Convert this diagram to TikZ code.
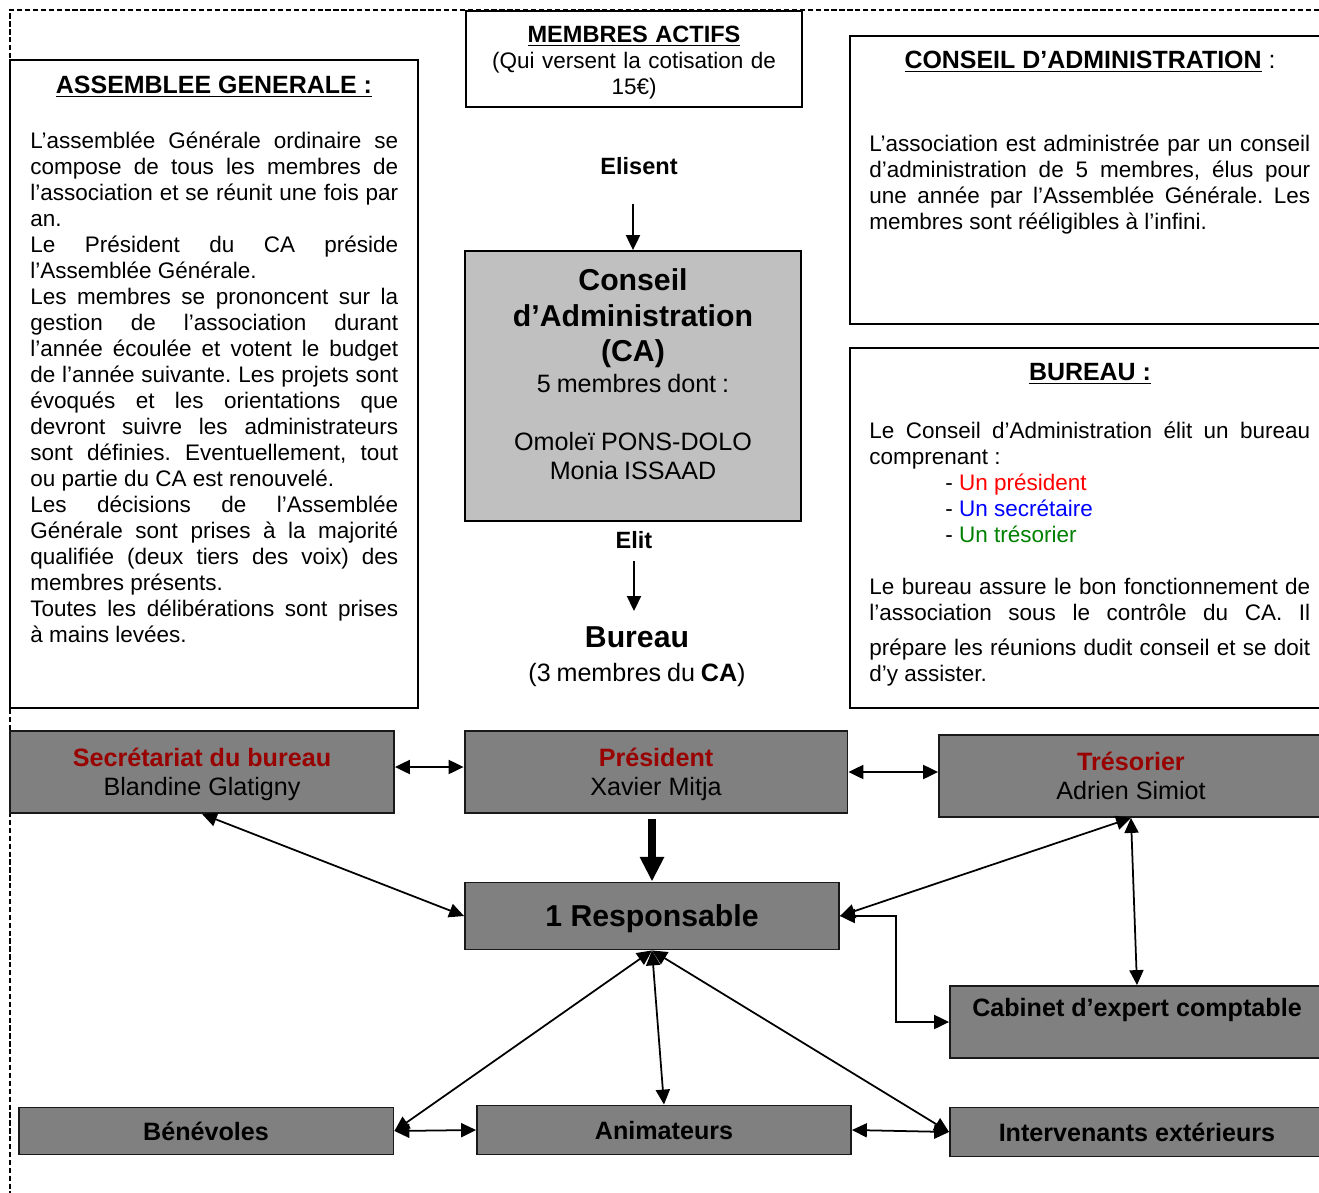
\documentclass[tikz,border=0pt]{standalone}
\usepackage{fontspec}
\setmainfont{Liberation Sans}
\usetikzlibrary{arrows.meta}

\definecolor{grisclair}{RGB}{192,192,192}
\definecolor{grisfonce}{RGB}{128,128,128}
\definecolor{rougefonce}{RGB}{153,0,0}
\definecolor{vertfonce}{RGB}{0,128,0}

\newcommand{\corps}{\fontsize{12.8}{14.8}\selectfont}
\newcommand{\titre}{\fontsize{14.2}{16.5}\selectfont\bfseries}
\newcommand{\grand}{\fontsize{17.2}{20.4}\selectfont\bfseries}
\newcommand{\moyen}{\fontsize{14.3}{16.5}\selectfont\mdseries}
\newcommand{\petittitre}{\fontsize{13.4}{15}\selectfont\bfseries}

\tikzstyle{cadre}=[rectangle, draw=black, line width=1.1pt, fill=white, inner sep=0]
\tikzstyle{bloc}=[rectangle, draw=black!90, line width=1.1pt, fill=grisfonce, inner sep=0, align=center, font=\moyen, text depth=0pt]
\tikzstyle{texte}=[inner sep=0, align=justify, font=\corps, execute at begin node={\frenchspacing\tolerance=10000 \hbadness=10000}]
\tikzstyle{fleche}=[line width=1pt, -{Triangle[length=8.5pt,width=8pt]}]
\tikzstyle{dfleche}=[line width=1pt, {Triangle[length=8.5pt,width=8pt]}-{Triangle[length=8.5pt,width=8pt]}]
\tikzstyle{grossefleche}=[line width=4pt, -{Triangle[length=14pt,width=13pt]}]

\begin{document}
\begin{tikzpicture}[x=0.02cm, y=-0.02cm]
\useasboundingbox (0,0) rectangle (1319,1193);
\clip (0,0) rectangle (1319,1193);
% cadre pointille
\draw[line width=0.6pt, dash pattern=on 3pt off 1.5pt] (1319,10) -- (10,10) -- (10,1193);

% assemblee generale
\node[cadre, minimum width=8.16cm, minimum height=12.96cm] (ag) at (214,384) {};
\node[font=\titre] (agtitre) at (214,87) {\underline{ASSEMBLEE GENERALE :}};
\node[texte, text width=7.36cm, anchor=north west] (agtexte) at (30,132) {%
L’assemblée Générale ordinaire se\linebreak compose de tous les membres de\linebreak
l’association et se réunit une fois par\linebreak an.\par
Le Président du CA préside\linebreak l’Assemblée Générale.\par
Les membres se prononcent sur la\linebreak gestion de l’association durant\linebreak
l’année écoulée et votent le budget\linebreak de l’année suivante. Les projets sont\linebreak
évoqués et les orientations que\linebreak devront suivre les administrateurs\linebreak
sont définies. Eventuellement, tout\linebreak ou partie du CA est renouvelé.\par
Les décisions de l’Assemblée\linebreak Générale sont prises à la majorité\linebreak
qualifiée (deux tiers des voix) des\linebreak membres présents.\par
Toutes les délibérations sont prises\linebreak à mains levées.};

% membres actifs
\node[cadre, minimum width=6.72cm, minimum height=1.92cm] (membres) at (634,59) {};
\node[inner sep=0, text width=6.72cm, align=center, font=\corps] (membrestexte) at (634,63)
  {{\petittitre\underline{MEMBRES ACTIFS}}\\ (Qui versent la cotisation de\\ 15€)\par};
\node[font=\petittitre] (elisent) at (639,166) {Elisent};

% conseil d'administration (CA)
\node[cadre, fill=grisclair, minimum width=6.72cm, minimum height=5.4cm] (ca) at (633,386) {};
\node[inner sep=0, anchor=north, text width=6.72cm, align=center] (catexte) at (633,268)
  {{\grand Conseil\\ d’Administration\\ (CA)\par}
   \moyen\vspace{0.04cm}5 membres dont :\\[0.58cm] Omoleï PONS-DOLO\\ Monia ISSAAD\par};
\node[font=\petittitre] (elit) at (634,540) {Elit};
\node[inner sep=0, anchor=north, text width=6.72cm, align=center] (bureau) at (637,626)
  {{\grand Bureau\par}\moyen\vspace{0.1cm}(3 membres du \textbf{CA})\par};

% descriptions a droite
\node[cadre, minimum width=9.6cm, minimum height=5.76cm] (cadesc) at (1090,180) {};
\node[font=\titre] (cadesctitre) at (1090,62) {\underline{CONSEIL D’ADMINISTRATION}\mdseries\ :};
\node[texte, text width=8.82cm, anchor=north west] (cadesctexte) at (869,135) {%
L’association est administrée par un conseil\linebreak d’administration de 5 membres, élus pour\linebreak
une année par l’Assemblée Générale. Les\linebreak membres sont rééligibles à l’infini.};

\node[cadre, minimum width=9.6cm, minimum height=7.2cm] (budesc) at (1090,528) {};
\node[font=\titre] (budesctitre) at (1090,374) {\underline{BUREAU :}};
\node[texte, text width=8.82cm, anchor=north west] (budesctexte) at (869,422) {%
Le Conseil d’Administration élit un bureau\linebreak comprenant~:\par
\hspace*{1.52cm}- \textcolor{red}{Un président}\par
\hspace*{1.52cm}- \textcolor{blue}{Un secrétaire}\par
\hspace*{1.52cm}- \textcolor{vertfonce}{Un trésorier}\par
\vspace{0.52cm}
Le bureau assure le bon fonctionnement de\linebreak l’association sous le contrôle du CA. Il\vadjust{\vskip 0.18cm}\linebreak
prépare les réunions dudit conseil et se doit\linebreak d’y assister.};

% organigramme
\node[bloc, minimum width=7.68cm, minimum height=1.64cm] (secr) at (202,772)
  {\textcolor{rougefonce}{\bfseries Secrétariat du bureau}\\ Blandine Glatigny};
\node[bloc, minimum width=7.66cm, minimum height=1.64cm] (pres) at (656,772)
  {\textcolor{rougefonce}{\bfseries Président}\\ Xavier Mitja};
\node[bloc, minimum width=7.68cm, minimum height=1.64cm] (tres) at (1131,776)
  {\textcolor{rougefonce}{\bfseries Trésorier}\\ Adrien Simiot};
\node[bloc, minimum width=7.48cm, minimum height=1.34cm, font=\grand] (resp) at (652,916) {1 Responsable};
\node[bloc, minimum width=7.48cm, minimum height=1.44cm, font=\moyen\bfseries] (cab) at (1137,1022)
  {Cabinet d’expert comptable\\ \strut};
\node[bloc, minimum width=7.5cm, minimum height=0.94cm, font=\moyen\bfseries] (ben) at (206,1131) {Bénévoles};
\node[bloc, minimum width=7.48cm, minimum height=0.98cm, font=\moyen\bfseries] (anim) at (664,1130) {Animateurs};
\node[bloc, minimum width=7.48cm, minimum height=0.98cm, font=\moyen\bfseries] (inter) at (1137,1132) {Intervenants extérieurs};

% fleches
\draw[fleche, shorten <=0.46cm] (ca.north |- elisent.south) -- (ca.north);
\draw[fleche, shorten <=0.12cm, shorten >=0.3cm] (elit.south) -- (elit.south |- bureau.north);
\draw[dfleche] ([yshift=0.1cm]secr.east) -- ([yshift=0.1cm]pres.west);
\draw[dfleche] (pres.east) -- (pres.east -| tres.west);
\draw[grossefleche, shorten <=0.1cm] (resp.north |- pres.south) -- (resp.north);
\draw[dfleche] (secr.south) -- (resp.west);
\draw[dfleche] (tres.south) -- (resp.east);
\draw[dfleche] (tres.south) -- (cab.north);
\draw[dfleche] (resp.east) -- ++(56,0) |- (cab.west);
\draw[dfleche] (resp.south) -- (ben.east);
\draw[dfleche] (resp.south) -- (anim.north);
\draw[dfleche] (resp.south) -- (inter.west);
\draw[dfleche] (ben.east) -- (anim.west);
\draw[dfleche] (anim.east) -- (inter.west);
\end{tikzpicture}
\end{document}
